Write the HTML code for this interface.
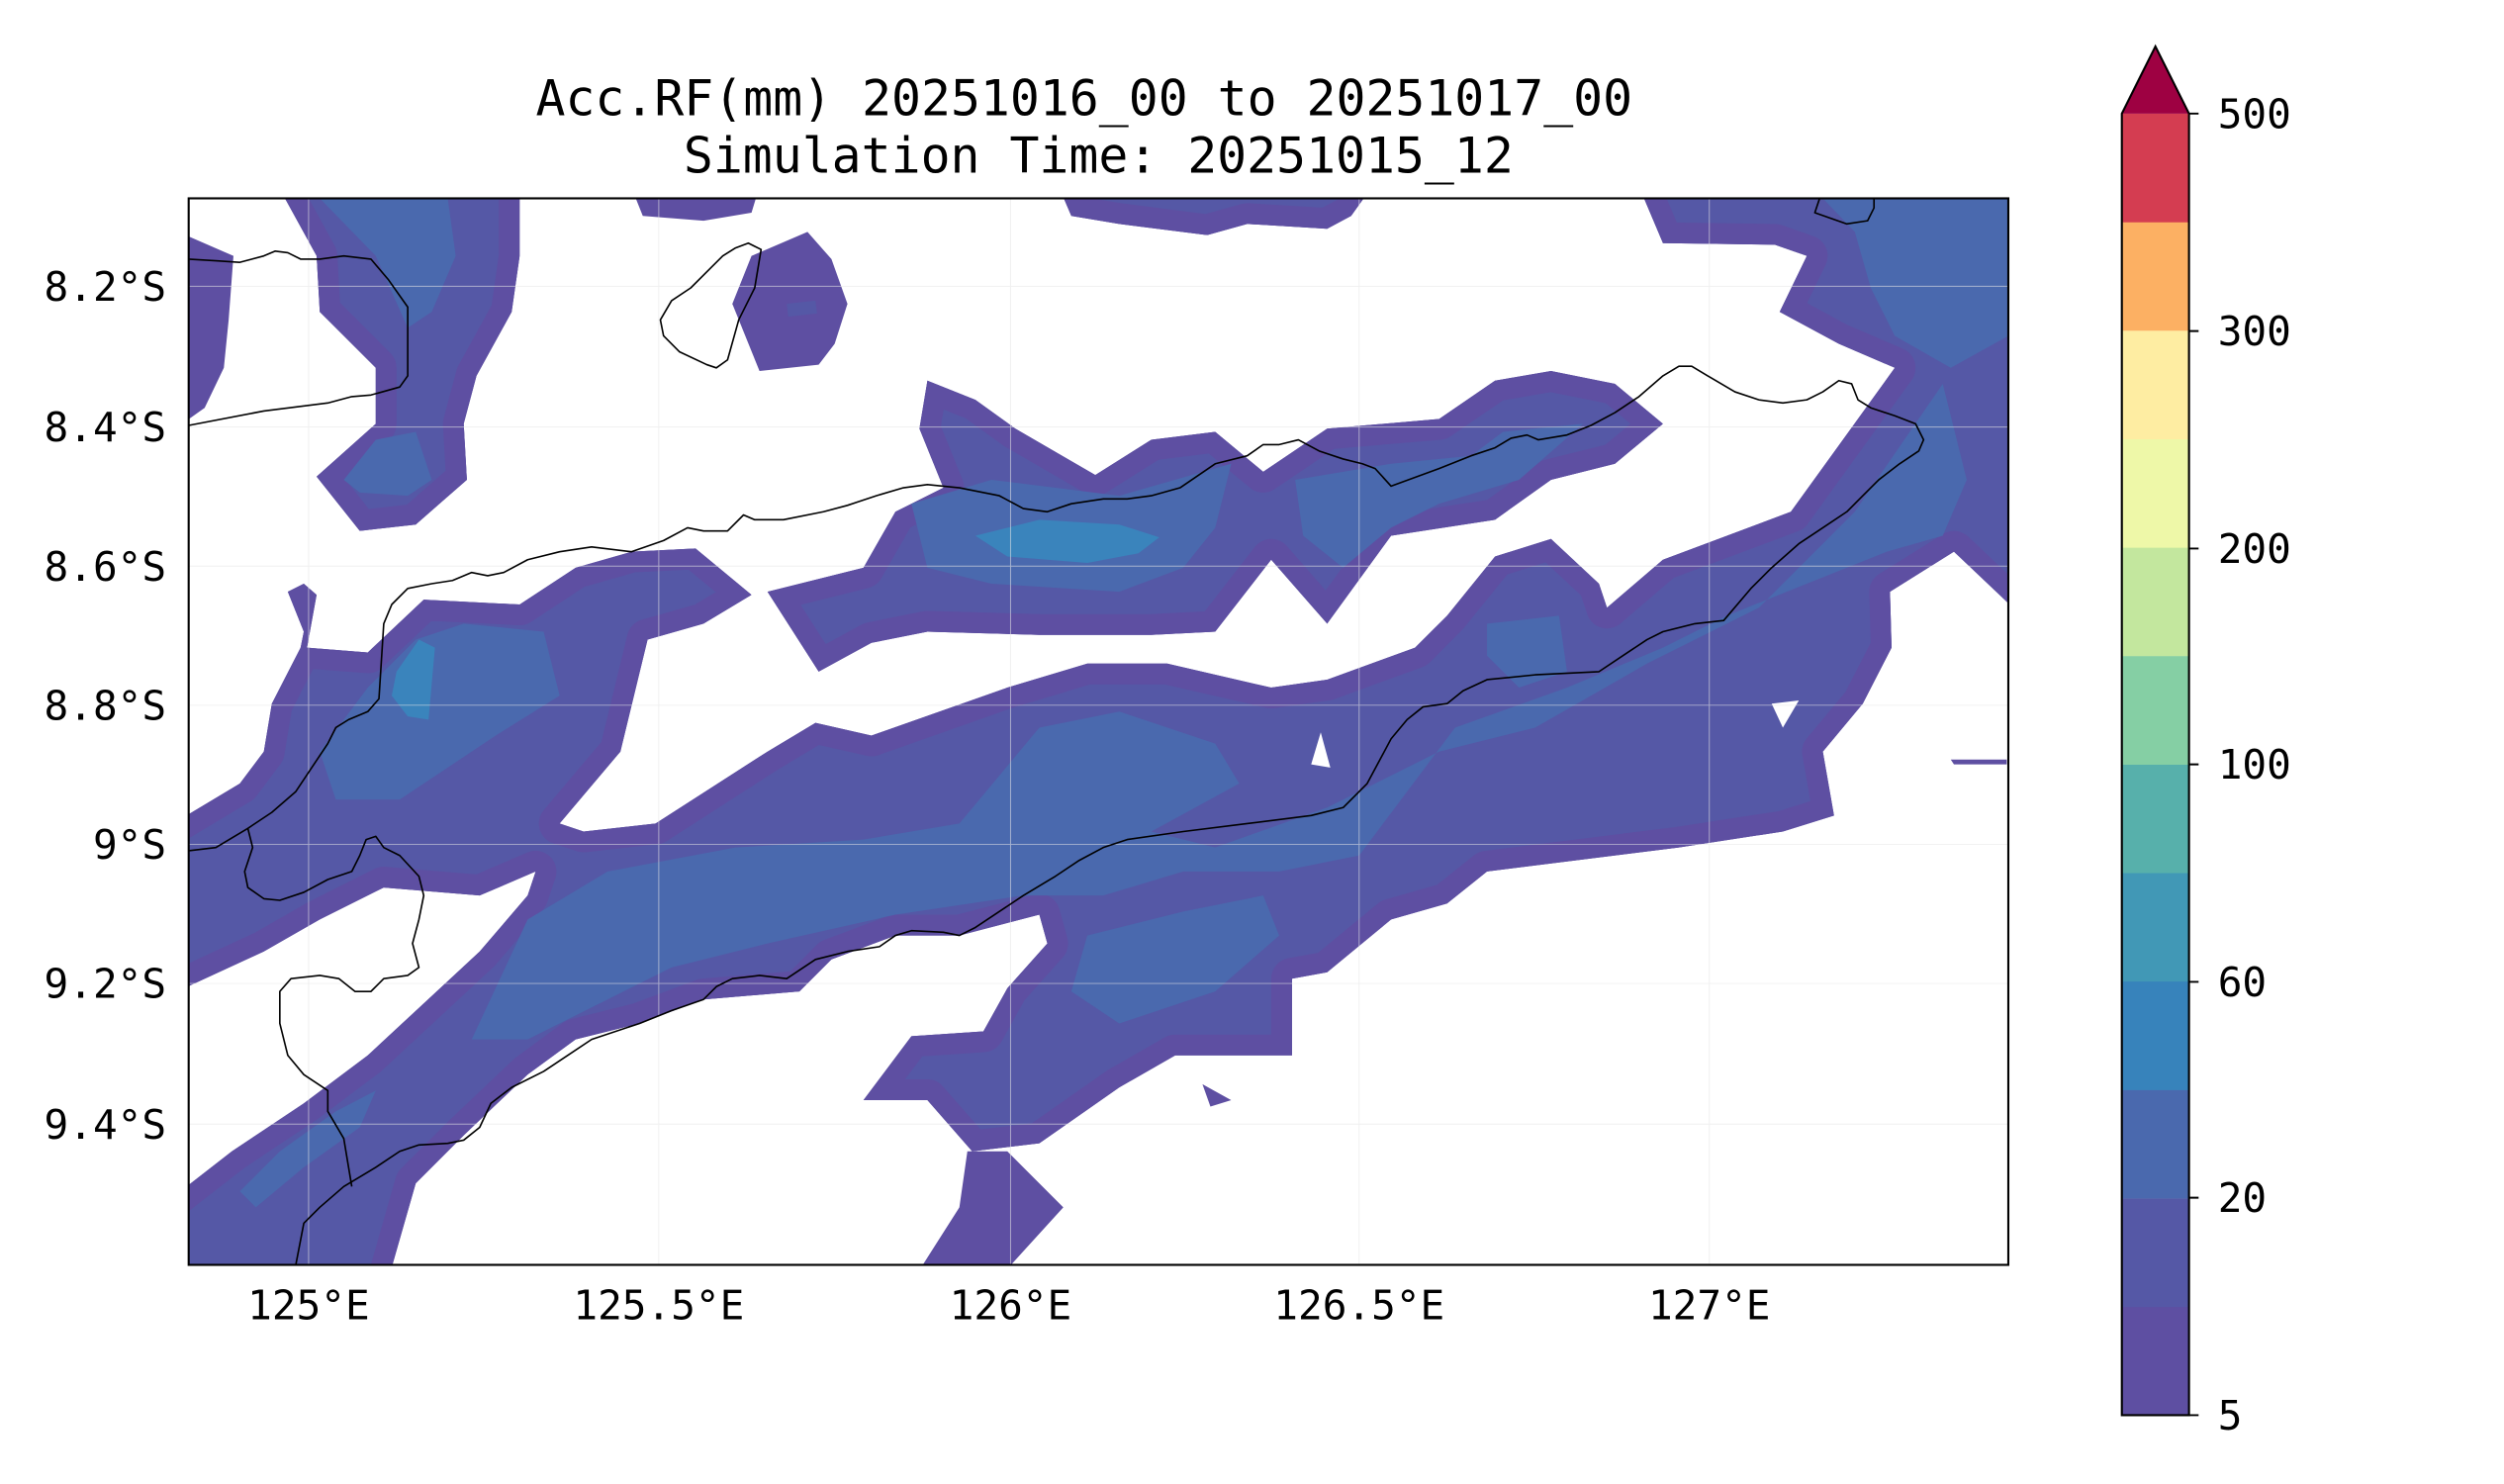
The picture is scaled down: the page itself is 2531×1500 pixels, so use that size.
<!DOCTYPE html>
<html><head><meta charset="utf-8"><style>html,body{margin:0;padding:0;background:#fff}svg{display:block}text{font-family:"DejaVu Sans Mono","Liberation Mono",monospace;fill:#000}</style></head><body>
<svg width="2531" height="1500" viewBox="0 0 1566 928" xmlns="http://www.w3.org/2000/svg">
<defs>
<clipPath id="plot"><rect x="118" y="124" width="1138" height="667"/></clipPath>
<polygon id="pA" points="165,100 325,100 325,160 320,195 298,235 290,265 292,300 260,328 225,332 198,298 235,265 235,230 200,195 198,160"/>
<polygon id="pB" points="100,140 146,160 143,200 140,230 128,255 100,275"/>
<polygon id="pC" points="388,100 480,100 470,133 440,138 402,135"/>
<polygon id="pD" points="470,160 505,145 520,162 530,190 522,215 512,228 475,232 458,190"/>
<polygon id="pE" points="655,100 870,100 845,135 830,143 780,140 755,147 700,140 670,135"/>
<polygon id="pF" points="575,268 580,238 610,250 635,268 685,297 720,275 760,270 790,295 830,268 900,262 935,238 970,232 1010,240 1040,265 1010,290 970,300 935,325 870,335 830,390 795,350 760,395 720,397 650,397 580,395 545,402 512,420 480,370 540,355 560,320 590,305"/>
<polygon id="pG" points="100,520 150,490 165,470 170,440 188,405 190,395 180,370 190,365 198,372 192,405 230,408 265,375 325,378 360,355 395,345 435,343 470,372 440,390 405,400 388,470 350,515 365,520 410,515 480,470 510,452 545,460 630,430 680,415 730,415 795,430 830,425 885,405 905,385 935,348 970,337 1000,365 1005,380 1040,350 1120,320 1185,230 1150,215 1113,195 1130,160 1110,153 1040,152 1018,100 1280,100 1280,400 1222,345 1182,370 1183,405 1165,440 1140,470 1147,510 1115,520 1050,530 930,545 905,565 870,575 830,608 808,612 808,660 795,660 735,660 700,680 650,715 608,720 580,688 540,688 570,648 615,645 630,618 655,590 650,572 600,585 560,585 520,600 500,620 440,625 400,640 360,650 330,672 290,710 260,740 240,810 100,810 100,755 145,720 190,690 230,660 300,595 330,560 335,545 300,560 240,555 200,575 165,595 100,625"/>
<polygon id="pH" points="565,810 600,755 605,720 630,720 665,755 615,810"/>
</defs>
<g clip-path="url(#plot)">
<g fill="#5e4fa2" stroke="none">
<use href="#pA"/><use href="#pB"/><use href="#pC"/><use href="#pD"/><use href="#pE"/><use href="#pF"/><use href="#pG"/><use href="#pH"/>
<polygon points="752,678 770,688 757,692"/>
<polygon points="1220,475 1255,475 1255,478 1222,478"/>
</g>
<clipPath id="cA"><use href="#pA"/></clipPath><clipPath id="cD"><use href="#pD"/></clipPath><clipPath id="cF"><use href="#pF"/></clipPath><clipPath id="cG"><use href="#pG"/></clipPath><clipPath id="cE"><use href="#pE"/></clipPath>
<g fill="#5558a6" stroke="#5e4fa2" stroke-width="26" stroke-linejoin="round">
<use href="#pA" clip-path="url(#cA)"/><use href="#pF" clip-path="url(#cF)"/><use href="#pG" clip-path="url(#cG)"/><use href="#pE" clip-path="url(#cE)"/>
</g>
<g fill="#4a69ae">
<polygon points="200,124 280,124 285,160 270,195 255,205 235,160"/>
<polygon points="215,300 235,275 260,270 270,300 255,310 225,308"/>
<polygon points="1140,124 1256,124 1256,210 1220,230 1185,210 1170,180 1160,145"/>
<polygon points="295,650 330,575 380,545 460,530 540,525 600,515 650,455 700,445 760,465 775,490 720,520 760,530 830,505 900,470 960,455 1030,415 1100,380 1160,320 1215,240 1230,300 1215,335 1180,345 1130,365 1080,385 1040,405 980,430 910,455 880,495 850,535 800,545 740,545 690,560 640,560 560,572 480,590 420,605 380,625 330,650"/>
<polygon points="200,470 230,430 260,400 290,390 340,395 350,435 310,460 280,480 250,500 210,500"/>
<polygon points="570,315 620,300 700,310 770,290 760,330 740,355 700,370 620,365 580,355"/>
<polygon points="810,300 870,290 920,285 940,270 990,265 950,300 900,315 870,330 840,355 815,335"/>
<polygon points="930,390 975,385 980,420 950,430 930,410"/>
<polygon points="680,585 740,570 790,560 800,585 760,620 700,640 670,620"/>
<polygon points="150,745 175,720 210,695 235,682 225,705 190,730 160,755"/>
</g>
<polygon points="492,190 510,188 511,196 493,198" fill="#5558a6"/>
<g fill="#3a84bc">
<polygon points="610,335 650,325 700,328 725,336 712,346 680,352 630,348"/>
<polygon points="248,420 262,400 272,405 268,450 255,448 245,435"/>
</g>
<g fill="#fff">
<polygon points="1108,440 1125,438 1115,455"/>
<polygon points="820,478 826,458 832,480"/>
</g>
<g stroke="#e6e6e6" stroke-width="0.6" stroke-opacity="0.6" fill="none">
<path d="M118,179H1256M118,267H1256M118,354H1256M118,441H1256M118,528H1256M118,615H1256M118,703H1256M193,124V791M412,124V791M632,124V791M850,124V791M1069,124V791"/>
</g>
<g stroke="#000" stroke-width="1" fill="none" stroke-linejoin="round">
<polyline points="118,162 135,163 150,164 165,160 172,157 180,158 188,162 200,162 215,160 232,162 243,175 255,192 255,235 250,242 232,247 220,248 205,252 165,257 118,266"/>
<polygon points="468,152 476,156 472,180 462,200 455,225 448,230 442,228 425,220 415,210 413,200 420,188 432,180 442,170 452,160 460,155"/>
<polyline points="118,532 135,530 155,518 170,508 185,495 195,480 205,465 210,455 218,450 230,445 237,437 240,390 245,378 255,368 270,365 283,363 295,358 305,360 315,358 330,350 350,345 370,342 395,345 415,338 430,330 440,332 455,332 465,322 472,325 490,325 515,320 530,316 548,310 565,305 580,303 600,305 625,310 640,318 655,320 670,315 690,312 705,312 720,310 738,305 760,290 780,285 790,278 800,278 812,275 825,282 840,287 852,290 860,293 870,304 900,293 920,285 935,280 945,274 955,272 962,275 980,272 995,266 1010,258 1025,248 1040,235 1050,229 1058,229 1068,235 1085,245 1100,250 1115,252 1130,250 1140,245 1150,238 1158,240 1162,250 1170,255 1185,260 1198,265 1203,275 1200,282 1188,290 1175,300 1165,310 1155,320 1140,330 1125,340 1108,355 1095,368 1078,388 1060,390 1040,395 1030,400 1015,410 1000,420 960,422 930,425 915,432 905,440 890,442 880,450 870,462 855,490 840,505 820,510 780,515 740,520 705,525 690,530 675,538 660,548 640,560 625,570 610,580 600,585 590,583 570,582 560,585 550,592 530,595 510,600 492,612 475,610 458,612 448,617 440,625 420,632 400,640 370,650 355,660 340,670 320,680 307,690 300,705 290,713 280,715 262,716 250,720 235,730 215,742 200,755 190,765 185,791"/>
<polyline points="155,518 158,530 153,545 155,555 165,562 175,563 190,558 205,550 220,545 225,535 229,525 235,523 240,530 250,535 262,548 265,560 262,575 258,590 262,605 255,610 240,612 232,620 222,620 212,612 200,610 182,612 175,620 175,640 180,660 190,672 205,682 205,695 215,712 220,742"/>
<polyline points="1138,124 1135,133 1155,140 1168,138 1172,130 1172,124"/>
</g>
</g>
<rect x="118" y="124" width="1138" height="667" fill="none" stroke="#000" stroke-width="1.3"/>
<g font-size="25.4" text-anchor="end">
<text x="104" y="188">8.2°S</text><text x="104" y="276">8.4°S</text><text x="104" y="363">8.6°S</text><text x="104" y="450">8.8°S</text><text x="104" y="537">9°S</text><text x="104" y="624">9.2°S</text><text x="104" y="712">9.4°S</text>
</g>
<g font-size="25.4" text-anchor="middle">
<text x="193" y="825">125°E</text><text x="412" y="825">125.5°E</text><text x="632" y="825">126°E</text><text x="850" y="825">126.5°E</text><text x="1069" y="825">127°E</text>
</g>
<g font-size="30.8" text-anchor="middle">
<text x="678" y="72">Acc.RF(mm) 20251016_00 to 20251017_00</text>
<text x="687" y="108">Simulation Time: 20251015_12</text>
</g>
<g>
<rect x="1327" y="817.2" width="42" height="68" fill="#5e4fa2"/>
<rect x="1327" y="749.4" width="42" height="68" fill="#5558a6"/>
<rect x="1327" y="681.5" width="42" height="68" fill="#4a69ae"/>
<rect x="1327" y="613.7" width="42" height="68" fill="#3783bb"/>
<rect x="1327" y="545.8" width="42" height="68" fill="#4198b6"/>
<rect x="1327" y="478" width="42" height="68" fill="#57b0ab"/>
<rect x="1327" y="410.2" width="42" height="68" fill="#85cfa4"/>
<rect x="1327" y="342.3" width="42" height="68" fill="#c3e79e"/>
<rect x="1327" y="274.5" width="42" height="68" fill="#eef8a8"/>
<rect x="1327" y="206.7" width="42" height="68" fill="#feeda2"/>
<rect x="1327" y="138.8" width="42" height="68" fill="#fcb063"/>
<rect x="1327" y="71" width="42" height="68" fill="#d43d51"/>
<polygon points="1327,71 1348,29 1369,71" fill="#9e0142"/>
<polygon points="1327,885 1327,71 1348,29 1369,71 1369,885" fill="none" stroke="#000" stroke-width="1.3"/>
<g stroke="#000" stroke-width="1.2"><path d="M1369,71h6M1369,207h6M1369,343h6M1369,478h6M1369,614h6M1369,749h6M1369,885h6"/></g>
<g font-size="25.4"><text x="1387" y="80">500</text><text x="1387" y="216">300</text><text x="1387" y="352">200</text><text x="1387" y="487">100</text><text x="1387" y="623">60</text><text x="1387" y="758">20</text><text x="1387" y="894">5</text></g>
</g>
</svg>
</body></html>
